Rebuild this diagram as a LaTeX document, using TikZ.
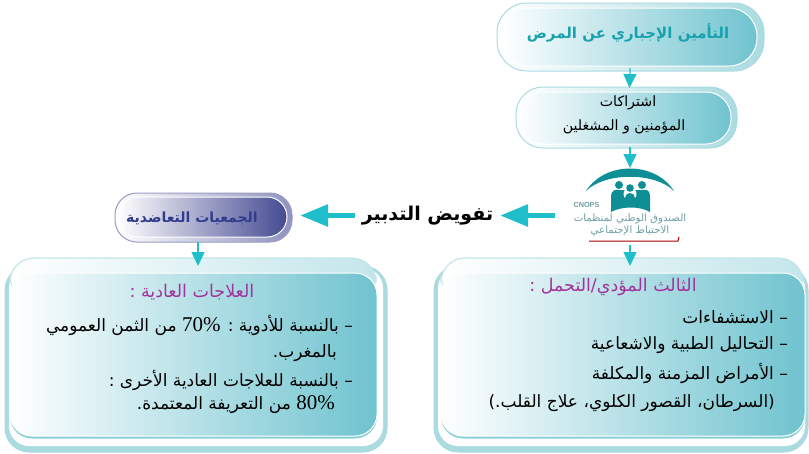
\documentclass[tikz,border=0pt]{standalone}
\usepackage{fontspec}
\usetikzlibrary{arrows.meta,fit,calc}
\TeXXeTstate=1
\newfontfamily\arabicfont[Script=Arabic]{DejaVu Sans}
\newfontfamily\arabicbold[Script=Arabic]{DejaVu Sans Bold}
\setmainfont{Liberation Serif}
\newfontfamily\logosans{Liberation Sans}
\definecolor{tealR}{HTML}{6FC3CF}
\definecolor{tealB}{HTML}{AADBE1}
\definecolor{tealE}{HTML}{8ACFD8}
\definecolor{arrowC}{HTML}{1FBECA}
\definecolor{titleC}{HTML}{17A2AE}
\definecolor{purpT}{HTML}{A2339A}
\definecolor{navyR}{HTML}{454A92}
\definecolor{navyT}{HTML}{323C8C}
\definecolor{logoC}{HTML}{0E8F95}
\definecolor{logoT}{HTML}{6F9FA3}
\tikzset{
  lay/.style={inner sep=0pt,outer sep=0pt,rounded corners=#1},
  back/.style={left color=white,right color=tealB,draw=tealB,line width=1pt},
  front/.style={left color=white,right color=tealR,draw=white,line width=1pt},
  solidback/.style={fill=tealB,draw=tealB,line width=1pt},
  rim/.style={fill=tealE,draw=none},
  inner/.style={fill=white,draw=none},
  sheet/.style={left color=white,right color=tealB!70,draw=tealB!70,line width=1.2pt},
  flow/.style={draw=arrowC,line width=1.2pt,-{Triangle[length=14pt,width=13pt]}},
  bigflow/.style={draw=arrowC,line width=5.5pt,-{Triangle[length=28pt,width=21pt]}},
  bodytext/.style={inner sep=0pt,text=black,font=\arabicfont\fontsize{17}{19}\selectfont},
  headtext/.style={inner sep=0pt,text=purpT,font=\arabicfont\fontsize{17.5}{19}\selectfont},
}
\newcommand{\ar}[1]{\beginR #1\endR}
\newcommand{\ltr}[1]{\beginL{\normalfont\fontsize{21}{21}\selectfont #1}\endL{}}
\begin{document}
\begin{tikzpicture}[x=1pt,y=-1pt]
\useasboundingbox (0,0) rectangle (809,453);
% top box
\node[lay=30pt,fit={(497,3)(764,71)},back] (b1back) {};
\node[lay=28pt,fit={(500,8)(757,66)},front] (b1) {};
\node[inner sep=0pt,text=titleC,font=\arabicbold\fontsize{15}{17}\selectfont] (b1t) at (628,33) {\ar{التأمين الإجباري عن المرض}};
% second box
\node[lay=27pt,fit={(516,87)(737,148)},back] (b2back) {};
\node[lay=25pt,fit={(518,92)(731,144)},front] (b2) {};
\node[inner sep=0pt,font=\arabicfont\fontsize{14.2}{16}\selectfont] (b2t1) at (628,103) {\ar{اشتراكات}};
\node[inner sep=0pt,font=\arabicfont\fontsize{14.2}{16}\selectfont] (b2t2) at (624,127) {\ar{المؤمنين و المشغلين}};
% logo
\node[inner sep=0pt,outer sep=0pt,fit={(555,168)(705,245)}] (logo) {};
\fill[logoC] (586,191) .. controls (605,161) and (655,161) .. (674,191) .. controls (655,172) and (605,172) .. (586,191) -- cycle;
\fill[logoC] (611,212) -- (611,196) .. controls (611,190) and (616,189) .. (620,190) -- (642,190) .. controls (646,189) and (650,190) .. (650,196) -- (650,212) .. controls (640,206) and (622,206) .. (611,212) -- cycle;
\fill[logoC] (619,185) circle (4pt) (642,185) circle (4pt);
\fill[white] (630,194) circle (6.5pt);
\fill[logoC] (630,188) circle (3.8pt) (630,198) circle (5pt);
\node[inner sep=0pt,text=logoT,font=\logosans\bfseries\fontsize{7.3}{8}\selectfont] (cnops) at (586.5,205) {CNOPS};
\node[inner sep=0pt,text=logoT,font=\arabicfont\fontsize{10.2}{11}\selectfont] (lt1) at (630,219) {\ar{الصندوق الوطني لمنظمات}};
\node[inner sep=0pt,text=logoT,font=\arabicfont\fontsize{10.2}{11}\selectfont] (lt2) at (630,231) {\ar{الاحتياط الإجتماعي}};
\draw[draw=red!65!black,line width=1pt] (589,241) -- (678,241) -- (679,237);
% label
\node[inner sep=0pt,outer sep=0pt,minimum width=145pt,minimum height=40pt,font=\arabicbold\fontsize{19}{21}\selectfont] (mg) at (427.5,215.5) {\ar{تفويض التدبير}};
% purple box
\node[lay=22pt,fit={(115,193)(292,242)},left color=white,right color=navyR!60,draw=navyR!55,line width=1pt] (p0) {};
\node[lay=20pt,fit={(118,197)(287,237)},left color=white,right color=navyR,draw=white,line width=1pt] (p) {};
\node[inner sep=0pt,text=navyT,font=\arabicbold\fontsize{14}{16}\selectfont] (pt) at (192,218) {\ar{الجمعيات التعاضدية}};
% right big box
\node[lay=24pt,fit={(434,266)(808,452)},solidback] (rb0) {};
\node[lay=20pt,fit={(438,268)(805,446)},inner] (rb1) {};
\node[lay=24pt,fit={(441,258)(803,300)},sheet] (rb2) {};
\node[lay=22pt,fit={(441,273)(805,438.5)},rim] (rbr) {};
\node[lay=22pt,fit={(441,273)(805,436)},front] (rb) {};
% left big box
\node[lay=24pt,fit={(5,266)(387,452)},solidback] (lb0) {};
\node[lay=20pt,fit={(9,268)(383,446)},inner] (lb1) {};
\node[lay=24pt,fit={(10,258)(376,300)},sheet] (lb2) {};
\node[lay=22pt,fit={(10,273)(377,438.5)},rim] (lbr) {};
\node[lay=22pt,fit={(10,273)(377,436)},front] (lb) {};
% right text
\node[headtext] (r0) at (613,287) {\ar{الثالث المؤدي/التحمل :}};
\node[bodytext,anchor=east] (r1) at (788,317) {\ar{– الاستشفاءات}};
\node[bodytext,anchor=east] (r2) at (788,345) {\ar{– التحاليل الطبية والاشعاعية}};
\node[bodytext,anchor=east] (r3) at (788,373) {\ar{– الأمراض المزمنة والمكلفة}};
\node[bodytext,anchor=east] (r4) at (775,403) {\ar{(السرطان، القصور الكلوي، علاج القلب.)}};
% left text
\node[headtext] (l0) at (192,292) {\ar{العلاجات العادية :}};
\node[bodytext,anchor=east] (l1) at (353,325) {\ar{– بالنسبة للأدوية : \ltr{70\%} من الثمن العمومي}};
\node[bodytext,anchor=east] (l2) at (337,353) {\ar{بالمغرب.}};
\node[bodytext,anchor=east] (l3) at (353,380) {\ar{– بالنسبة للعلاجات العادية الأخرى :}};
\node[bodytext,anchor=east] (l4) at (335,405) {\ar{\ltr{80\%} من التعريفة المعتمدة.}};
% connectors
\draw[flow,shorten <=-3pt,shorten >=-1pt] ([xshift=-0.5pt]b1back.south) -- ([xshift=3pt]b2back.north);
\draw[flow,shorten <=-1pt] ([xshift=3.5pt]b2back.south) -- (logo.north);
\draw[flow,shorten >=-8pt] (logo.south) -- (logo.south |- rb2.north);
\draw[bigflow] (logo.west |- mg.east) -- (mg.east);
\draw[bigflow,shorten >=8pt] (mg.west) -- (p0.east |- mg.west);
\draw[flow,shorten >=-8pt] ([xshift=-5.5pt]p0.south) -- ([xshift=-5.5pt]p0.south |- lb2.north);
\end{tikzpicture}
\end{document}
